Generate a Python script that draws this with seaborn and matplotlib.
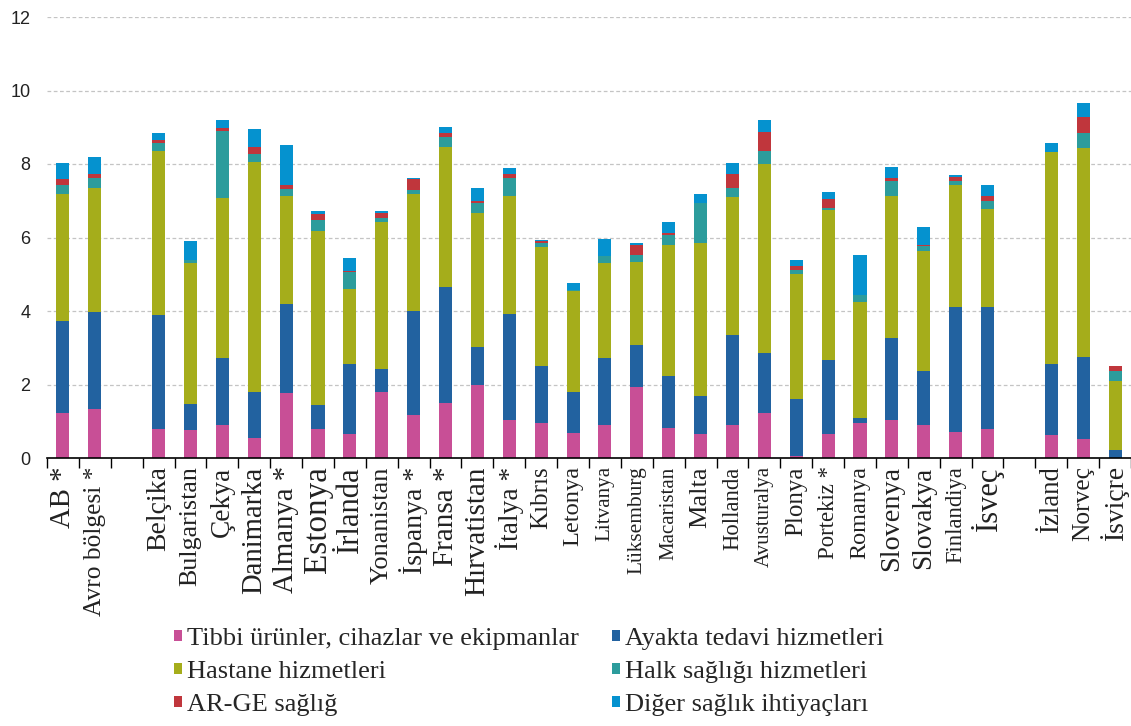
import matplotlib
matplotlib.use("Agg")
import matplotlib.pyplot as plt
import seaborn as sns
import numpy as np
import pandas as pd

# Categories along the x axis ("" and " " are spacer slots between groups)
countries = [
    "AB *", "Avro bölgesi *", "",
    "Belçika", "Bulgaristan", "Çekya", "Danimarka", "Almanya *", "Estonya",
    "İrlanda", "Yonanistan", "İspanya *", "Fransa *", "Hırvatistan", "İtalya *",
    "Kıbrıs", "Letonya", "Litvanya", "Lüksemburg", "Macaristan", "Malta",
    "Hollanda", "Avusturalya", "Plonya", "Portekiz *", "Romanya", "Slovenya",
    "Slovakya", "Finlandiya", "İsveç", " ",
    "İzland", "Norveç", "İsviçre",
]

# Spending by function, % of GDP (stacked bottom to top)
tibbi = [1.23, 1.33, 0, 0.78, 0.76, 0.89, 0.55, 1.77, 0.78, 0.65, 1.80, 1.16,
         1.50, 2.00, 1.03, 0.96, 0.69, 0.89, 1.94, 0.82, 0.66, 0.89, 1.23, 0.05,
         0.66, 0.96, 1.03, 0.89, 0.72, 0.79, 0, 0.62, 0.52, 0.00]
ayakta = [2.50, 2.64, 0, 3.11, 0.71, 1.83, 1.25, 2.43, 0.66, 1.90, 0.61, 2.84,
          3.14, 1.02, 2.90, 1.55, 1.11, 1.83, 1.14, 1.42, 1.04, 2.47, 1.62, 1.55,
          2.02, 0.13, 2.23, 1.49, 3.38, 3.31, 0, 1.93, 2.23, 0.22]
hastane = [3.45, 3.38, 0, 4.47, 3.83, 4.36, 6.26, 2.94, 4.73, 2.06, 4.02, 3.18,
           3.82, 3.65, 3.21, 3.22, 2.75, 2.58, 2.24, 3.56, 4.16, 3.75, 5.14, 3.41,
           4.06, 3.15, 3.86, 3.24, 3.32, 2.67, 0, 5.78, 5.68, 1.88]
halk = [0.26, 0.28, 0, 0.20, 0.08, 1.82, 0.20, 0.18, 0.30, 0.44, 0.11, 0.11,
        0.27, 0.27, 0.49, 0.12, 0.02, 0.20, 0.20, 0.26, 1.07, 0.24, 0.36, 0.10,
        0.07, 0.20, 0.42, 0.14, 0.13, 0.21, 0, 0.00, 0.41, 0.28]
arge = [0.14, 0.11, 0, 0.08, 0.02, 0.07, 0.20, 0.10, 0.17, 0.04, 0.13, 0.30,
        0.11, 0.05, 0.10, 0.05, 0.00, 0.00, 0.28, 0.05, 0.00, 0.39, 0.52, 0.11,
        0.23, 0.00, 0.08, 0.04, 0.10, 0.16, 0, 0.00, 0.43, 0.11]
diger = [0.45, 0.45, 0, 0.20, 0.51, 0.24, 0.48, 1.11, 0.07, 0.36, 0.04, 0.03,
         0.16, 0.35, 0.15, 0.02, 0.18, 0.46, 0.06, 0.32, 0.25, 0.29, 0.34, 0.17,
         0.20, 1.09, 0.30, 0.48, 0.04, 0.28, 0, 0.24, 0.38, 0.02]

series_names = [
    "Tibbi ürünler, cihazlar ve ekipmanlar",
    "Ayakta tedavi hizmetleri",
    "Hastane hizmetleri",
    "Halk sağlığı hizmetleri",
    "AR-GE sağlığ",
    "Diğer sağlık ihtiyaçları",
]
series_values = [tibbi, ayakta, hastane, halk, arge, diger]
series_colors = ["#C84F96", "#2262A0", "#A5AD1B", "#2C9C9C", "#C0363C", "#0592CF"]

# Font size (pt) of each category label
label_sizes = [20.7, 18.3, 10, 20, 18.7, 19.7, 20.6, 20.7, 23.9, 22, 19, 20,
               21, 21, 19.7, 18, 17.6, 15.2, 15.4, 15, 19, 16.3, 15, 18,
               16.4, 17.5, 20.3, 19.7, 16.3, 22, 10, 19.3, 18.3, 19.9]

sns.set_style("white")
plt.rcParams["font.family"] = ["Liberation Serif", "DejaVu Serif"]

W, H = 1131, 726
fig = plt.figure(figsize=(W / 100, H / 100), dpi=100)
ax = fig.add_axes([47 / W, 1 - 458 / H, 1 - 47 / W, (458 - 17) / H])

n = len(countries)
bottom = np.zeros(n)
for vals, name, col in zip(series_values, series_names, series_colors):
    df = pd.DataFrame({"ülke": countries, "değer": vals})
    sns.barplot(data=df, x="ülke", y="değer", order=countries, color=col,
                saturation=1, width=0.41, errorbar=None, bottom=bottom.copy(),
                linewidth=0, label=name, ax=ax)
    bottom += np.asarray(vals, dtype=float)

ax.set_xlim(-0.5, n - 0.5)
ax.set_ylim(0, 12)
ax.set_xlabel("")
ax.set_ylabel("")

# x axis: labels under each slot, tick marks on slot boundaries
ax.set_xticks(np.arange(n))
ax.set_xticklabels(countries, rotation=90, va="top", ha="center")
for lbl, size in zip(ax.get_xticklabels(), label_sizes):
    lbl.set_fontsize(size)
    lbl.set_color("#222222")
ax.set_xticks(np.arange(-0.5, n, 1), minor=True)
ax.tick_params(axis="x", which="major", length=0, pad=6)
ax.tick_params(axis="x", which="minor", length=7, width=1, color="black",
               direction="out", bottom=True)

# y axis
ax.set_yticks(np.arange(0, 13, 2))
ax.set_yticklabels([str(v) for v in range(0, 13, 2)],
                   family="Liberation Sans", fontsize=13, color="#222222")
ax.tick_params(axis="y", length=0, pad=12)
ax.yaxis.grid(True, linestyle=(0, (3, 2)), color="#c4c4c4", linewidth=0.9)
ax.set_axisbelow(True)

for side in ("left", "right", "top"):
    ax.spines[side].set_visible(False)
ax.spines["bottom"].set_color("black")
ax.spines["bottom"].set_linewidth(1.2)

handles, labels = ax.get_legend_handles_labels()
lookup = dict(zip(labels, handles))
legend_order = [series_names[0], series_names[2], series_names[4],
                series_names[1], series_names[3], series_names[5]]
fig.legend([lookup[k] for k in legend_order], legend_order,
           loc="upper left", bbox_to_anchor=(174 / W, 1 - 628 / H),
           bbox_transform=fig.transFigure, ncol=2, frameon=False,
           prop={"family": "Liberation Serif", "size": 19},
           handlelength=0.3, handleheight=0.3, handletextpad=0.2,
           columnspacing=1.25, labelspacing=0.42, borderpad=0, borderaxespad=0)
if ax.get_legend() is not None:
    ax.get_legend().remove()

fig.savefig("out.png", dpi=100)
